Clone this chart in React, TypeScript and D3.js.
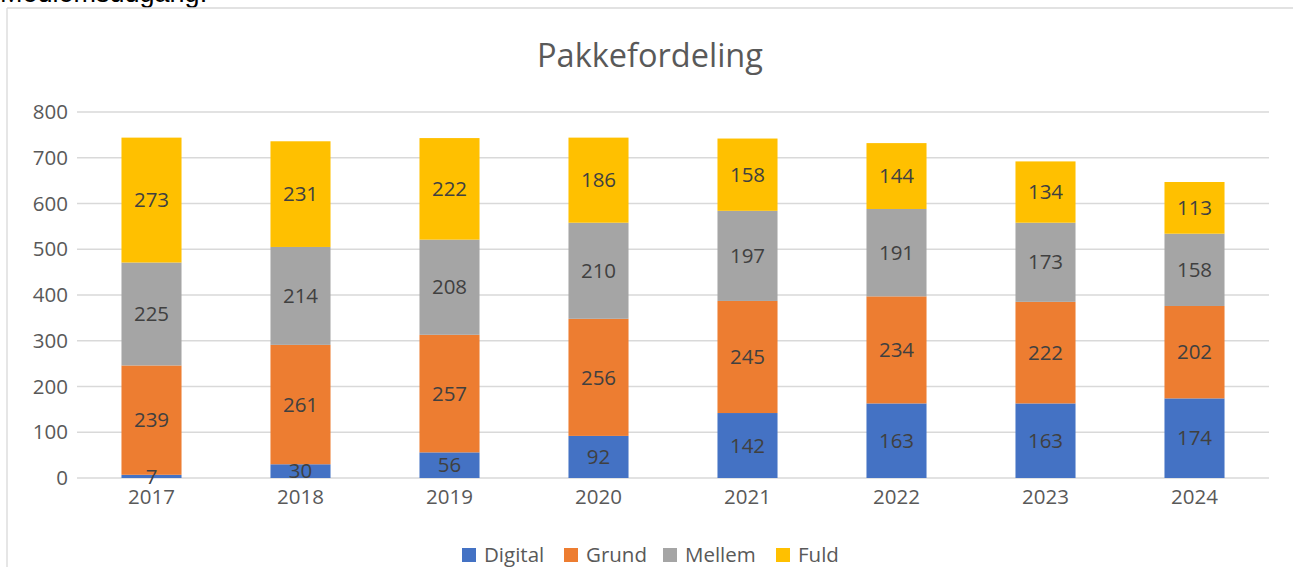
import React from "react";
import * as d3 from "d3";

const years = ["2017", "2018", "2019", "2020", "2021", "2022", "2023", "2024"];
const seriesNames = ["Digital", "Grund", "Mellem", "Fuld"];
const digital = [7, 30, 56, 92, 142, 163, 163, 174];
const grund = [239, 261, 257, 256, 245, 234, 222, 202];
const mellem = [225, 214, 208, 210, 197, 191, 173, 158];
const fuld = [273, 231, 222, 186, 158, 144, 134, 113];
const yTicks = [0, 100, 200, 300, 400, 500, 600, 700, 800];
const colors = ["#4472C4", "#ED7D31", "#A5A5A5", "#FFC000"];

const W = 1293;
const H = 567;
const FONT = "'Open Sans', 'Noto Sans', sans-serif";
const FS = 20.5;

export default function App() {
  const values = [digital, grund, mellem, fuld];
  const rows = years.map((y, i) => {
    const r: any = { year: y };
    seriesNames.forEach((s, k) => (r[s] = values[k][i]));
    return r;
  });
  const stacked = d3.stack().keys(seriesNames)(rows);

  const x = d3
    .scaleBand()
    .domain(years)
    .range([77, 1269])
    .paddingInner(0.597)
    .paddingOuter(0.2985);
  const y = d3.scaleLinear().domain([0, 800]).range([478, 112]);

  const legendX = [462, 564, 663, 776];

  return (
    <svg
      width={W}
      height={H}
      style={{ position: "absolute", left: 0, top: 0, background: "#fff" }}
    >
      <text x={0} y={2} fontFamily="Arial, 'Liberation Sans', sans-serif" fontSize={27} fill="#000">
        Medlemsudgang.
      </text>
      <line x1={7} x2={7} y1={8} y2={H} stroke="#d9d9d9" strokeWidth={1.3} />
      <line x1={7} x2={W} y1={8} y2={8} stroke="#d9d9d9" strokeWidth={1.3} />

      <text x={650} y={67} textAnchor="middle" fontFamily={FONT} fontSize={32.5} fill="#595959">
        Pakkefordeling
      </text>

      {yTicks.map((t) => (
        <g key={t}>
          <line x1={77} x2={1269} y1={y(t)} y2={y(t)} stroke="#d9d9d9" strokeWidth={1.4} />
          <text
            x={68}
            y={y(t)}
            dy="0.35em"
            textAnchor="end"
            fontFamily={FONT}
            fontSize={FS}
            fill="#595959"
          >
            {t}
          </text>
        </g>
      ))}

      {stacked.map((layer, k) => (
        <g key={layer.key}>
          {layer.map((d, i) => (
            <rect
              key={i}
              x={x(years[i])}
              width={x.bandwidth()}
              y={y(d[1])}
              height={y(d[0]) - y(d[1])}
              fill={colors[k]}
            />
          ))}
        </g>
      ))}

      {stacked.map((layer, k) => (
        <g key={layer.key + "-lbl"}>
          {layer.map((d, i) => (
            <text
              key={i}
              x={(x(years[i]) as number) + x.bandwidth() / 2}
              y={(y(d[0]) + y(d[1])) / 2}
              dy="0.35em"
              textAnchor="middle"
              fontFamily={FONT}
              fontSize={FS}
              fill="#404040"
            >
              {values[k][i]}
            </text>
          ))}
        </g>
      ))}

      {years.map((yr) => (
        <text
          key={yr}
          x={(x(yr) as number) + x.bandwidth() / 2}
          y={497}
          dy="0.35em"
          textAnchor="middle"
          fontFamily={FONT}
          fontSize={FS}
          fill="#595959"
        >
          {yr}
        </text>
      ))}

      {seriesNames.map((s, k) => (
        <g key={s}>
          <rect x={legendX[k]} y={548} width={14} height={14} fill={colors[k]} />
          <text
            x={legendX[k] + 22}
            y={555}
            dy="0.35em"
            fontFamily={FONT}
            fontSize={FS}
            fill="#595959"
          >
            {s}
          </text>
        </g>
      ))}
    </svg>
  );
}
